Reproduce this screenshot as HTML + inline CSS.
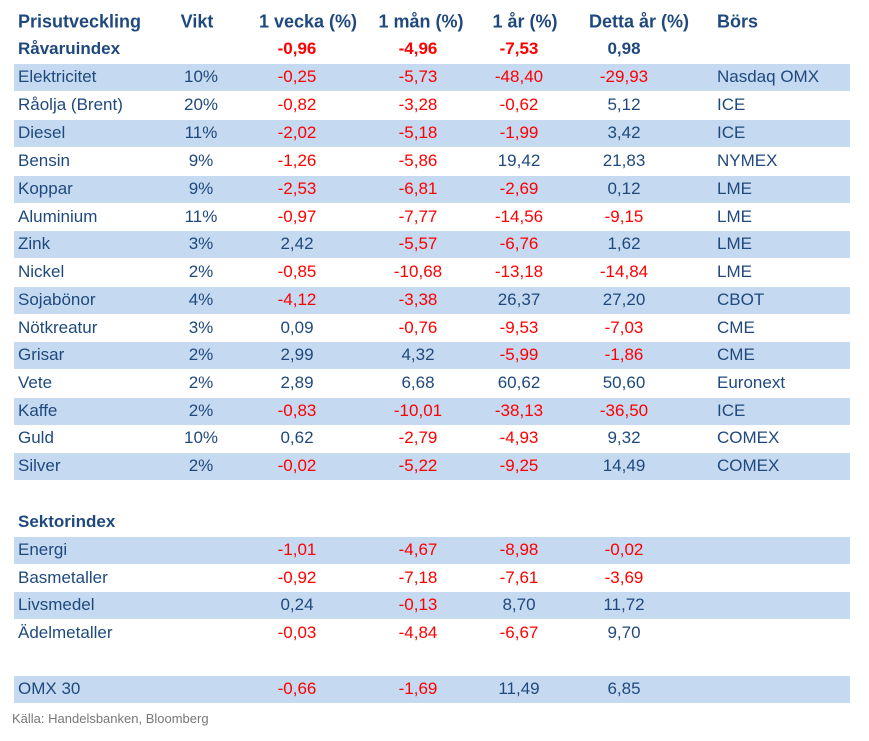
<!DOCTYPE html>
<html><head><meta charset="utf-8"><style>
body{margin:0;width:869px;height:741px;background:#fff;position:relative;font-family:"Liberation Sans",Carlito,sans-serif;font-size:17px;color:#1f497d;overflow:hidden}
.r{position:absolute;left:14px;width:836px;height:27px}
.b{background:#c5d9f1}
.r span{position:absolute;top:50%;transform:translate(-50%,-50%);white-space:nowrap}
.r span.l{transform:translate(0,-50%)}
.n{color:#ff0000}
.h{font-weight:bold}
.hd{font-size:18px}
</style></head><body>
<div id="c"></div>
<div style="position:absolute;left:12px;top:711px;font-size:13px;color:#777">Källa: Handelsbanken, Bloomberg</div>
<script>
var rows=[
[22,0,1,"Prisutveckling","Vikt","1 vecka (%)","1 mån (%)","1 år (%)","Detta år (%)","Börs"],
[49,0,1,"Råvaruindex","","-0,96","-4,96","-7,53","0,98",""],
[77,1,0,"Elektricitet","10%","-0,25","-5,73","-48,40","-29,93","Nasdaq OMX"],
[105,0,0,"Råolja (Brent)","20%","-0,82","-3,28","-0,62","5,12","ICE"],
[133,1,0,"Diesel","11%","-2,02","-5,18","-1,99","3,42","ICE"],
[161,0,0,"Bensin","9%","-1,26","-5,86","19,42","21,83","NYMEX"],
[189,1,0,"Koppar","9%","-2,53","-6,81","-2,69","0,12","LME"],
[217,0,0,"Aluminium","11%","-0,97","-7,77","-14,56","-9,15","LME"],
[244,1,0,"Zink","3%","2,42","-5,57","-6,76","1,62","LME"],
[272,0,0,"Nickel","2%","-0,85","-10,68","-13,18","-14,84","LME"],
[300,1,0,"Sojabönor","4%","-4,12","-3,38","26,37","27,20","CBOT"],
[328,0,0,"Nötkreatur","3%","0,09","-0,76","-9,53","-7,03","CME"],
[355,1,0,"Grisar","2%","2,99","4,32","-5,99","-1,86","CME"],
[383,0,0,"Vete","2%","2,89","6,68","60,62","50,60","Euronext"],
[411,1,0,"Kaffe","2%","-0,83","-10,01","-38,13","-36,50","ICE"],
[438,0,0,"Guld","10%","0,62","-2,79","-4,93","9,32","COMEX"],
[466,1,0,"Silver","2%","-0,02","-5,22","-9,25","14,49","COMEX"],
[522,0,1,"Sektorindex","","","","","",""],
[550,1,0,"Energi","","-1,01","-4,67","-8,98","-0,02",""],
[578,0,0,"Basmetaller","","-0,92","-7,18","-7,61","-3,69",""],
[605,1,0,"Livsmedel","","0,24","-0,13","8,70","11,72",""],
[633,0,0,"Ädelmetaller","","-0,03","-4,84","-6,67","9,70",""],
[689,1,0,"OMX 30","","-0,66","-1,69","11,49","6,85",""]];
var cx=[201,297,418,519,624];
var hx=[197,308,421,525,639];
var h="";
rows.forEach(function(r,k){
 var s='<div class="r'+(r[1]?' b':'')+(r[2]?' h':'')+(k==0?' hd':'')+'" style="top:'+(r[0]-13.5)+'px">';
 s+='<span class="l" style="left:4px">'+r[3]+'</span>';
 var cc=k==0?hx:cx;
 for(var i=0;i<5;i++){var t=r[4+i];if(!t)continue;var neg=t.charAt(0)=='-';
  s+='<span class="'+(neg?'n':'')+'" style="left:'+(cc[i]-14)+'px">'+t+'</span>';}
 if(r[9])s+='<span class="l" style="left:703px">'+r[9]+'</span>';
 h+=s+'</div>';
});
document.getElementById('c').innerHTML=h;
</script>
</body></html>
